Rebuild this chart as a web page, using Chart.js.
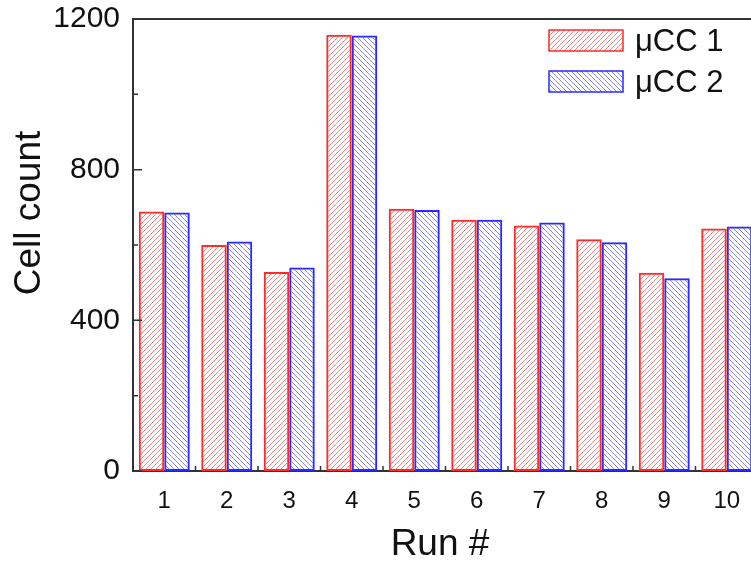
<!DOCTYPE html>
<html>
<head>
<meta charset="utf-8">
<script src="https://cdn.jsdelivr.net/npm/chart.js@4/dist/chart.umd.min.js"></script>
<style>
  html, body { margin: 0; padding: 0; background: #fff; overflow: hidden; }
  #wrap { width: 760px; height: 564px; }
</style>
</head>
<body>
<div id="wrap"><canvas id="runChart" width="760" height="564"></canvas></div>
<script>
// values
var runs = ['1', '2', '3', '4', '5', '6', '7', '8', '9', '10'];
var ucc1 = [689, 600, 528, 1158, 696, 667, 652, 615, 526, 644];
var ucc2 = [686, 609, 540, 1156, 693, 667, 660, 607, 512, 649];
var yTicks = [0, 400, 800, 1200];
var yMinor = [200, 600, 1000];

var FONT = '"Liberation Sans", Arial, sans-serif';

function hatch(color, dir) {
  var c = document.createElement('canvas');
  c.width = 5; c.height = 5;
  var g = c.getContext('2d');
  g.strokeStyle = color;
  g.lineWidth = 1;
  g.beginPath();
  if (dir > 0) {
    g.moveTo(-1, 6); g.lineTo(6, -1);
    g.moveTo(-1, 1); g.lineTo(1, -1);
    g.moveTo(4, 6); g.lineTo(6, 4);
  } else {
    g.moveTo(-1, -1); g.lineTo(6, 6);
    g.moveTo(4, -1); g.lineTo(6, 1);
    g.moveTo(-1, 4); g.lineTo(1, 6);
  }
  g.stroke();
  return g.createPattern(c, 'repeat');
}

var redFill = hatch('rgba(240,70,70,0.65)', 1);
var blueFill = hatch('rgba(70,70,230,0.65)', -1);

// box, inner ticks, titles and legend
var decor = {
  id: 'decor',
  afterDraw: function(chart) {
    var ctx = chart.ctx, a = chart.chartArea;
    var x = chart.scales.x, y = chart.scales.y;
    ctx.save();
    ctx.strokeStyle = '#333';
    ctx.lineWidth = 2;
    ctx.beginPath();
    ctx.moveTo(a.left - 1, a.top); ctx.lineTo(a.right + 1, a.top);
    ctx.stroke();

    ctx.lineWidth = 1.5;
    ctx.beginPath();
    yTicks.forEach(function(v) {
      var py = y.getPixelForValue(v);
      ctx.moveTo(a.left, py); ctx.lineTo(a.left + 9, py);
    });
    yMinor.forEach(function(v) {
      var py = y.getPixelForValue(v);
      ctx.moveTo(a.left, py); ctx.lineTo(a.left + 5, py);
    });
    for (var i = 0; i < runs.length - 1; i++) {
      var px = (x.getPixelForValue(i) + x.getPixelForValue(i + 1)) / 2;
      ctx.moveTo(px, a.bottom); ctx.lineTo(px, a.bottom - 5);
    }
    ctx.stroke();

    ctx.fillStyle = '#111';
    ctx.textAlign = 'center';
    ctx.textBaseline = 'middle';
    ctx.font = '37px ' + FONT;
    ctx.fillText('Run #', 440, 545);
    ctx.save();
    ctx.translate(30, 213);
    ctx.rotate(-Math.PI / 2);
    ctx.fillText('Cell count', 0, 0);
    ctx.restore();

    // legend inside the plot
    ctx.textAlign = 'left';
    ctx.font = '31px ' + FONT;
    chart.data.datasets.forEach(function(ds, k) {
      var bx = a.right - 209, by = a.top + 11 + k * 41;
      ctx.fillStyle = ds.backgroundColor;
      ctx.fillRect(bx, by, 74, 21);
      ctx.strokeStyle = ds.borderColor;
      ctx.lineWidth = 1.5;
      ctx.strokeRect(bx, by, 74, 21);
      ctx.fillStyle = '#111';
      ctx.fillText(ds.label, bx + 86, by + 12);
    });
    ctx.restore();
  }
};

var ctx = document.getElementById('runChart').getContext('2d');
var chart = new Chart(ctx, {
  type: 'bar',
  data: {
    labels: runs,
    datasets: [
      { label: 'μCC 1', data: ucc1, backgroundColor: redFill, borderColor: '#ff2a2a',
        borderWidth: 2, borderSkipped: false, categoryPercentage: 0.816, barPercentage: 1.0 },
      { label: 'μCC 2', data: ucc2, backgroundColor: blueFill, borderColor: '#2a2aff',
        borderWidth: 2, borderSkipped: false, categoryPercentage: 0.816, barPercentage: 1.0 }
    ]
  },
  options: {
    responsive: false,
    animation: false,
    layout: { padding: { top: 19, right: 2, left: 0, bottom: 0 } },
    plugins: { legend: { display: false }, tooltip: { enabled: false } },
    scales: {
      x: {
        grid: { display: false, drawTicks: false },
        border: { color: '#333', width: 2 },
        ticks: { color: '#111', font: { family: FONT, size: 24 }, padding: 16, maxRotation: 0 },
        afterFit: function(s) { s.height = 93; s.paddingLeft = 0; s.paddingRight = 0; }
      },
      y: {
        min: 0, max: 1200,
        afterBuildTicks: function(s) { s.ticks = yTicks.map(function(v) { return { value: v }; }); },
        grid: { display: false, drawTicks: false },
        border: { color: '#333', width: 2 },
        ticks: { color: '#111', font: { family: FONT, size: 30 }, padding: 13,
                 callback: function(v) { return String(v); } },
        afterFit: function(s) { s.width = 133; s.paddingTop = 0; s.paddingBottom = 0; }
      }
    }
  },
  plugins: [decor]
});
</script>
</body>
</html>
